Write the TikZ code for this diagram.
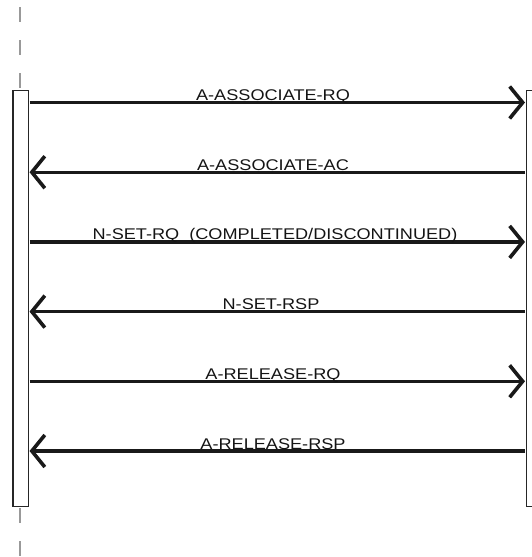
\documentclass[tikz,border=0pt]{standalone}
\usepackage{fontspec}
\newfontfamily\lblfont[FakeStretch=1.17]{Liberation Sans}
\usetikzlibrary{arrows.meta}
\begin{document}
\begin{tikzpicture}[x=1pt,y=-1pt,
  lifebox/.style={draw=black!85,line width=1.4pt,fill=white},
  lifeline/.style={draw=black!40,line width=2.2pt,dash pattern=on 15pt off 18pt},
  msg/.style={line width=3.2pt,draw=black!90,-{Straight Barb[length=13pt,width=32pt,line width=3.6pt]}},
  lbl/.style={font=\lblfont\fontsize{15.5}{16}\selectfont,text=black!92,anchor=base,inner sep=0pt}]
\useasboundingbox (0,0) rectangle (531,557);
% lifelines
\draw[lifeline] (20,7) -- (20,90);
\draw[lifeline] (20,508) -- (20,557);
% activation boxes
\node[lifebox,minimum width=15.4pt,minimum height=416pt,inner sep=0pt,anchor=north west] (L) at (12.3,90) {};
\node[lifebox,minimum width=16pt,minimum height=416pt,inner sep=0pt,anchor=north west] (R) at (526,90) {};
% message endpoints
\foreach \i/\y in {1/102.5,2/172.2,3/241.9,4/311.6,5/381.3,6/451}{
  \coordinate (l\i) at (29.5,\y);
  \coordinate (r\i) at (525,\y);
}
\draw[msg] (l1) -- (r1);
\draw[msg] (r2) -- (l2);
\draw[msg] (l3) -- (r3);
\draw[msg] (r4) -- (l4);
\draw[msg] (l5) -- (r5);
\draw[msg] (r6) -- (l6);
% labels
\node[lbl] (t1) at (273,100.5) {A-ASSOCIATE-RQ};
\node[lbl] (t2) at (273,170.2) {A-ASSOCIATE-AC};
\node[lbl] (t3) at (275,239.9) {N-SET-RQ\ \ (COMPLETED/DISCONTINUED)};
\node[lbl] (t4) at (271,309.6) {N-SET-RSP};
\node[lbl] (t5) at (273,379.3) {A-RELEASE-RQ};
\node[lbl] (t6) at (273,449) {A-RELEASE-RSP};
\end{tikzpicture}
\end{document}
